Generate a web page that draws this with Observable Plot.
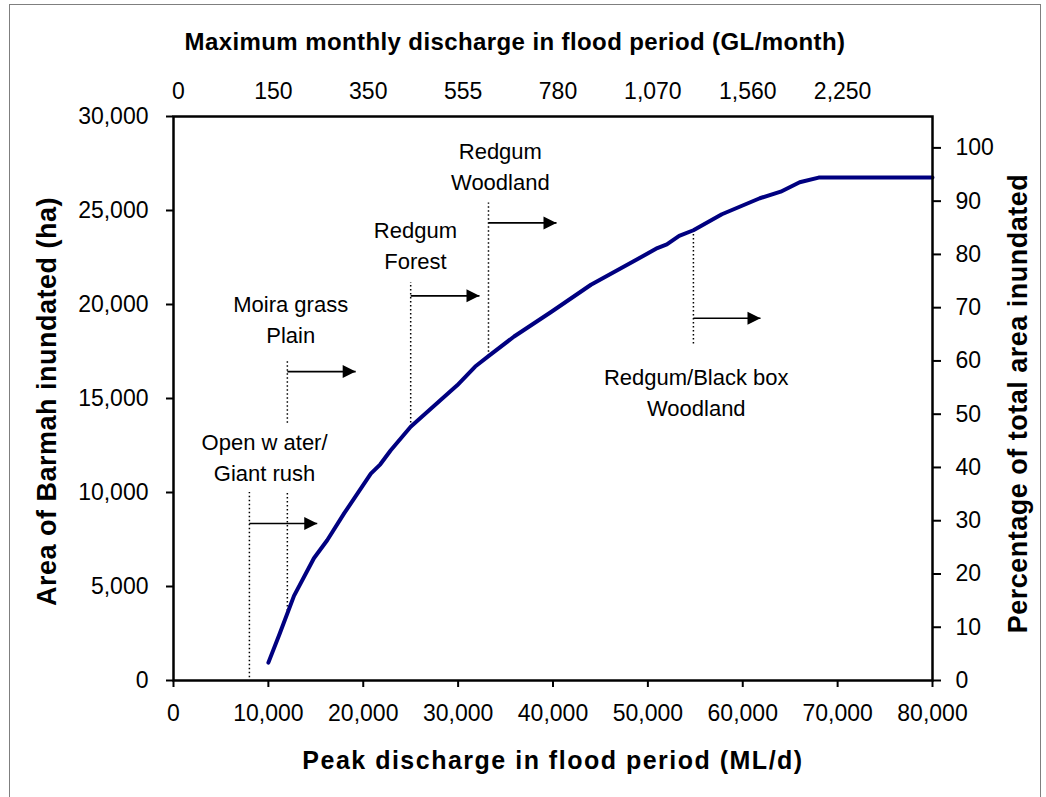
<!DOCTYPE html>
<html>
<head>
<meta charset="utf-8">
<script src="https://cdn.jsdelivr.net/npm/d3@7"></script>
<script src="https://cdn.jsdelivr.net/npm/@observablehq/plot@0.6"></script>
<style>
  body { margin: 0; background: #fff; }
  #wrap { position: relative; width: 1046px; height: 797px; overflow: hidden; background: #fff; }
  #border { position: absolute; left: 9px; top: 4px; width: 1030px; height: 830px; border: 1.5px solid #7f7f7f; pointer-events: none; }
</style>
</head>
<body>
<div id="wrap"><div id="chart"></div><div id="border"></div></div>
<script>
// Inundation curve: peak discharge (ML/d) vs area of Barmah inundated (ha)
const peakDischarge = [10000, 11200, 12700, 14800, 16200, 18000, 20800, 21800, 22900, 25000, 26000, 29900, 31800, 33200, 35900, 39800, 44000, 48500, 51000, 52000, 53300, 54800, 57800, 61800, 64000, 66000, 68000, 80000];
const areaInundated = [950, 2500, 4500, 6500, 7460, 8900, 11000, 11500, 12250, 13500, 13950, 15700, 16700, 17250, 18300, 19600, 21050, 22300, 23000, 23200, 23650, 23950, 24800, 25650, 26000, 26500, 26750, 26750];

// Axis ticks
const xTicks = [0, 10000, 20000, 30000, 40000, 50000, 60000, 70000, 80000];
const yTicks = [0, 5000, 10000, 15000, 20000, 25000, 30000];
const pctTicks = [0, 10, 20, 30, 40, 50, 60, 70, 80, 90, 100];
const TOTAL_AREA = 28330; // ha corresponding to 100 %
const topTickPositions = [0, 10000, 20000, 30000, 40000, 50000, 60000, 70000];
const topTickLabels = ["0", "150", "350", "555", "780", "1,070", "1,560", "2,250"];

// Vegetation zone annotations
const zoneLabels = ["Open w ater/\nGiant rush", "Moira grass\nPlain", "Redgum\nForest", "Redgum\nWoodland", "Redgum/Black box\nWoodland"];
const labelX = [9600, 12350, 25500, 34450, 55100];
const labelY = [11950, 19300, 23230, 27430, 15410];

// Dotted threshold lines
const dividerX = [8000, 12000, 12000, 25000, 33200, 54800];
const dividerY1 = [150, 3700, 13680, 13480, 17250, 17900];
const dividerY2 = [10000, 10000, 17050, 21170, 25400, 23950];

// Arrows
const arrowX1 = [8000, 12000, 25000, 33200, 54800];
const arrowX2 = [15150, 19200, 32250, 40370, 61870];
const arrowY = [8350, 16430, 20460, 24340, 19270];

const titles = {
  top: "Maximum monthly discharge in flood period (GL/month)",
  bottom: "Peak discharge in flood period (ML/d)",
  left: "Area of Barmah inundated (ha)",
  right: "Percentage of total area inundated"
};

const idx = a => a.map((_, i) => i);
const fmt = d3.format(",");

// filled triangle whose tip is at the origin, pointing right
const arrowHead = {
  draw(ctx) {
    ctx.moveTo(0, 0);
    ctx.lineTo(-13, -6.5);
    ctx.lineTo(-13, 6.5);
    ctx.closePath();
  }
};

const chart = Plot.plot({
  width: 1046,
  height: 797,
  marginLeft: 173,
  marginRight: 114,
  marginTop: 116,
  marginBottom: 117,
  x: { domain: [0, 80000] },
  y: { domain: [0, 30000] },
  style: { fontFamily: "'Liberation Sans', Arial, sans-serif", color: "black", background: "white" },
  marks: [
    Plot.ruleX(idx(dividerX), {
      x: i => dividerX[i], y1: i => dividerY1[i], y2: i => dividerY2[i],
      stroke: "black", strokeWidth: 1.5, strokeDasharray: "1.5,2.5"
    }),
    Plot.link(idx(arrowX1), {
      x1: i => arrowX1[i], x2: i => arrowX2[i], y1: i => arrowY[i], y2: i => arrowY[i],
      stroke: "black", strokeWidth: 1.6
    }),
    Plot.dot(idx(arrowX2), {
      x: i => arrowX2[i], y: i => arrowY[i], symbol: arrowHead, fill: "black", stroke: "none", r: 5
    }),
    Plot.line(idx(peakDischarge), {
      x: i => peakDischarge[i], y: i => areaInundated[i],
      stroke: "#000080", strokeWidth: 4, strokeLinejoin: "round", strokeLinecap: "round"
    }),
    Plot.text(idx(zoneLabels), {
      x: i => labelX[i], y: i => labelY[i], text: i => zoneLabels[i],
      fontSize: 22, lineHeight: 1.41, lineAnchor: "middle", textAnchor: "middle", fill: "black"
    }),
    Plot.frame({ stroke: "black", strokeWidth: 2.5 }),
    Plot.axisX({ ticks: xTicks, tickFormat: fmt, tickSize: 7, tickPadding: 17, fontSize: 23, strokeWidth: 2, label: null }),
    Plot.axisX({ anchor: "top", ticks: topTickPositions, tickFormat: d => topTickLabels[topTickPositions.indexOf(d)], tickSize: 0, tickPadding: 18, fontSize: 23, dx: 5, label: null }),
    Plot.axisY({ ticks: yTicks, tickFormat: fmt, tickSize: 7, tickPadding: 18, fontSize: 23, strokeWidth: 2, label: null }),
    Plot.axisY({ anchor: "right", ticks: pctTicks.map(p => p * TOTAL_AREA / 100), tickFormat: d => String(Math.round(d / TOTAL_AREA * 100)), tickSize: 8, tickPadding: 15, fontSize: 23, strokeWidth: 2, label: null }),
    Plot.text([titles.top], { text: d => d, frameAnchor: "top", dy: -74, dx: -38, lineAnchor: "middle", fontSize: 24, fontWeight: "bold", fill: "black" }),
    Plot.text([titles.bottom], { text: d => d, frameAnchor: "bottom", dy: 80, lineAnchor: "middle", fontSize: 25, fontWeight: "bold", fill: "black" }),
    Plot.text([titles.left], { text: d => d, frameAnchor: "left", dx: -126, dy: 3, rotate: -90, lineAnchor: "middle", textAnchor: "middle", fontSize: 27, fontWeight: "bold", fill: "black" }),
    Plot.text([titles.right], { text: d => d, frameAnchor: "right", dx: 86, dy: 5, rotate: -90, lineAnchor: "middle", textAnchor: "middle", fontSize: 27, fontWeight: "bold", fill: "black" })
  ]
});

const spacing = new Map([[titles.bottom, "1.5px"], [titles.top, "0.4px"], [titles.left, "0.5px"], [titles.right, "0.5px"]]);
d3.select(chart).selectAll("text").each(function () {
  const s = spacing.get(this.textContent);
  if (s) this.setAttribute("letter-spacing", s);
});

document.getElementById("chart").appendChild(chart);
</script>
</body>
</html>
